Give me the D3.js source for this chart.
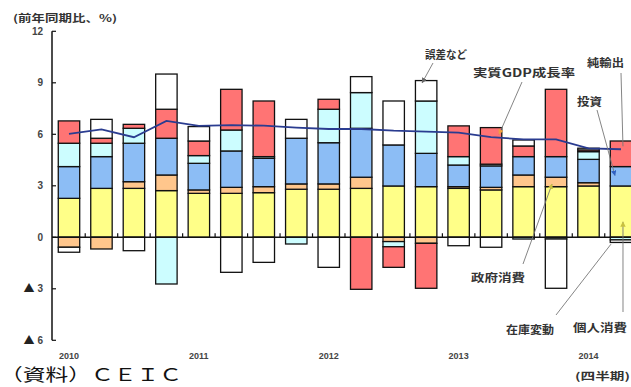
<!DOCTYPE html>
<html>
<head>
<meta charset="utf-8">
<script src="https://cdn.jsdelivr.net/npm/d3@7"></script>
<style>
  body { margin: 0; background: #fff; }
  svg { display: block; }
</style>
</head>
<body>
<div id="chart"></div>
<script>
// quarters 2010Q1 .. 2014Q2
const quarters = ["2010Q1","2010Q2","2010Q3","2010Q4","2011Q1","2011Q2","2011Q3","2011Q4",
  "2012Q1","2012Q2","2012Q3","2012Q4","2013Q1","2013Q2","2013Q3","2013Q4","2014Q1","2014Q2"];
const yearLabels = ["2010","2011","2012","2013","2014"];

// contributions to real GDP growth (%pt)
const consumption = [2.27,2.85,2.85,2.72,2.56,2.56,2.60,2.80,2.80,2.85,2.99,2.95,2.85,2.76,2.95,2.95,2.99,2.99];
const government  = [-0.58,-0.68,0.39,0.91,0.20,0.35,0.35,0.31,0.31,0.65,-0.25,-0.35,0.10,0.15,0.68,0.55,0.19,0];
const investment  = [1.85,1.85,2.24,2.14,1.55,2.12,1.65,2.66,2.40,2.85,2.39,1.94,1.26,1.25,1.07,1.20,1.36,1.13];
const inventory   = [1.36,0.78,0.87,-2.72,0.45,1.22,0.10,-0.39,1.95,2.08,-0.30,3.05,0.49,0.10,-0.10,-0.10,0.45,-0.15];
const netExports  = [1.30,0.29,0.23,1.69,0.85,2.37,3.24,0,0.58,-3.03,-1.20,-2.62,1.79,2.13,0.62,3.92,0.10,1.49];
const errors      = [-0.29,1.10,-0.78,2.05,0.84,-2.04,-1.46,1.10,-1.75,0.93,2.56,1.19,-0.49,-0.58,0.35,-2.87,0.10,-0.15];
const gdpGrowth   = [6.02,6.29,5.83,6.78,6.49,6.54,6.50,6.39,6.31,6.31,6.21,6.16,6.10,5.83,5.71,5.71,5.18,5.13];

const yTicks = [12, 9, 6, 3, 0, -3, -6];
const seriesKeys = ["個人消費","政府消費","投資","在庫変動","純輸出","誤差など"];
const seriesColors = ["#FFFF88","#FFC68C","#8CBDF5","#CCFDFF","#FF7474","#FFFFFF"];

const width = 631, height = 387;
const jp = "'Noto Sans CJK JP', sans-serif";
const num = "'Liberation Sans', Arial, sans-serif";

const rows = quarters.map((q, i) => ({
  q,
  "個人消費": consumption[i],
  "政府消費": government[i],
  "投資": investment[i],
  "在庫変動": inventory[i],
  "純輸出": netExports[i],
  "誤差など": errors[i]
}));

const stacked = d3.stack().keys(seriesKeys).offset(d3.stackOffsetDiverging)(rows);

const x = d3.scaleBand()
  .domain(quarters)
  .range([52.75, 52.75 + 18 * 32.47])
  .paddingInner(0.34)
  .paddingOuter(0.17);
const y = d3.scaleLinear().domain([-6, 12]).range([340.3, 31.3]);
const color = d3.scaleOrdinal().domain(seriesKeys).range(seriesColors);
const cx = q => x(q) + x.bandwidth() / 2;

const svg = d3.select("#chart").append("svg")
  .attr("width", width)
  .attr("height", height);

const defs = svg.append("defs");
function marker(id, fill) {
  defs.append("marker")
    .attr("id", id)
    .attr("viewBox", "0 0 10 10")
    .attr("refX", 9).attr("refY", 5)
    .attr("markerWidth", 6).attr("markerHeight", 6)
    .attr("orient", "auto-start-reverse")
    .append("path")
    .attr("d", "M0,0 L10,5 L0,10 z")
    .attr("fill", fill);
}
marker("arr-gray", "#666");
marker("arr-orange", "#F0A040");
marker("arr-blue", "#3060C0");
marker("arr-yellow", "#C8C040");

// bars
svg.append("g")
  .selectAll("g")
  .data(stacked)
  .join("g")
  .attr("fill", d => color(d.key))
  .selectAll("rect")
  .data(d => d.filter(s => s[1] !== s[0]))
  .join("rect")
  .attr("x", d => x(d.data.q))
  .attr("width", x.bandwidth())
  .attr("y", d => y(d[1]))
  .attr("height", d => y(d[0]) - y(d[1]))
  .attr("stroke", "#111")
  .attr("stroke-width", 1.3);

// zero line with quarter ticks
svg.append("line")
  .attr("x1", 52).attr("x2", width)
  .attr("y1", y(0)).attr("y2", y(0))
  .attr("stroke", "#111").attr("stroke-width", 1.5);
svg.append("g")
  .selectAll("line")
  .data(quarters.slice(1))
  .join("line")
  .attr("x1", d => x(d) - x.step() * x.paddingInner() / 2)
  .attr("x2", d => x(d) - x.step() * x.paddingInner() / 2)
  .attr("y1", y(0)).attr("y2", y(0) - 4)
  .attr("stroke", "#111").attr("stroke-width", 1.2);

// GDP growth line
svg.append("path")
  .datum(gdpGrowth)
  .attr("fill", "none")
  .attr("stroke", "#2A3C90")
  .attr("stroke-width", 1.8)
  .attr("d", d3.line().x((d, i) => cx(quarters[i])).y(d => y(d)));

// left axis
const axis = svg.append("g").attr("transform", "translate(52,0)");
axis.append("line")
  .attr("y1", y(12)).attr("y2", y(-6))
  .attr("stroke", "#111").attr("stroke-width", 1.5);
axis.selectAll("line.tick")
  .data(yTicks)
  .join("line")
  .attr("class", "tick")
  .attr("x1", 0).attr("x2", 4)
  .attr("y1", d => y(d)).attr("y2", d => y(d))
  .attr("stroke", "#111").attr("stroke-width", 1.2);
const tickText = axis.selectAll("text")
  .data(yTicks)
  .join("text")
  .attr("x", -9)
  .attr("y", d => y(d))
  .attr("dy", "0.35em")
  .attr("text-anchor", "end")
  .attr("font-family", num)
  .attr("font-size", 10)
  .attr("font-weight", "bold")
  .attr("fill", "#444");
tickText.filter(d => d < 0).append("tspan")
  .attr("font-family", jp)
  .attr("font-size", 11)
  .attr("fill", "#222")
  .text("▲");
tickText.append("tspan")
  .attr("dx", d => d < 0 ? 3 : 0)
  .text(d => Math.abs(d));

// year labels
svg.append("g")
  .selectAll("text")
  .data(yearLabels)
  .join("text")
  .attr("x", d => cx(d + "Q1"))
  .attr("y", 359)
  .attr("text-anchor", "middle")
  .attr("font-family", num)
  .attr("font-size", 9)
  .attr("font-weight", "bold")
  .attr("fill", "#444")
  .text(d => d);

// plain text labels
function label(t, x0, yb, w, size, opts = {}) {
  svg.append("text")
    .attr("x", x0).attr("y", yb)
    .attr("font-family", jp)
    .attr("font-size", size)
    .attr("font-weight", opts.weight || "bold")
    .attr("fill", opts.fill || "#333")
    .attr("textLength", w)
    .attr("lengthAdjust", "spacingAndGlyphs")
    .text(t);
}
label("(前年同期比、%)", 13, 22, 104, 10);
label("(四半期)", 575, 380, 55, 10);
label("（資料）ＣＥＩＣ", 0, 381, 182, 17, { weight: "normal", fill: "#111" });

// annotations: label + pointer onto a bar segment / the line
const annotations = [
  { text: "誤差など", tx: 425, ty: 59, w: 42, from: [433, 63], q: 11, dx: -4, v: 9.0, m: "arr-gray" },
  { text: "実質GDP成長率", tx: 473, ty: 77, w: 102, from: [522, 82], q: 13, dx: 8, v: 6.0, m: "arr-orange" },
  { text: "投資", tx: 577, ty: 106, w: 25, from: [597, 110], q: 17, dx: -6, v: 3.6, m: "arr-blue" },
  { text: "純輸出", tx: 587, ty: 67, w: 37, from: [621, 73], q: 17, dx: 2, v: 5.3, m: null },
  { text: "政府消費", tx: 471, ty: 282, w: 54, from: [523, 264], q: 15, dx: -4, v: 3.1, m: "arr-yellow" },
  { text: "在庫変動", tx: 506, ty: 334, w: 48, from: [556, 315], q: 17, dx: -10, v: -0.4, m: null },
  { text: "個人消費", tx: 573, ty: 332, w: 54, from: [623, 312], q: 17, dx: 2, v: 0.9, m: "arr-yellow" }
];
annotations.forEach(a => {
  const line = svg.append("line")
    .attr("x1", a.from[0]).attr("y1", a.from[1])
    .attr("x2", cx(quarters[a.q]) + a.dx).attr("y2", y(a.v))
    .attr("stroke", "#777").attr("stroke-width", 0.9);
  if (a.m) line.attr("marker-end", `url(#${a.m})`);
  label(a.text, a.tx, a.ty, a.w, 11);
});
</script>
</body>
</html>
